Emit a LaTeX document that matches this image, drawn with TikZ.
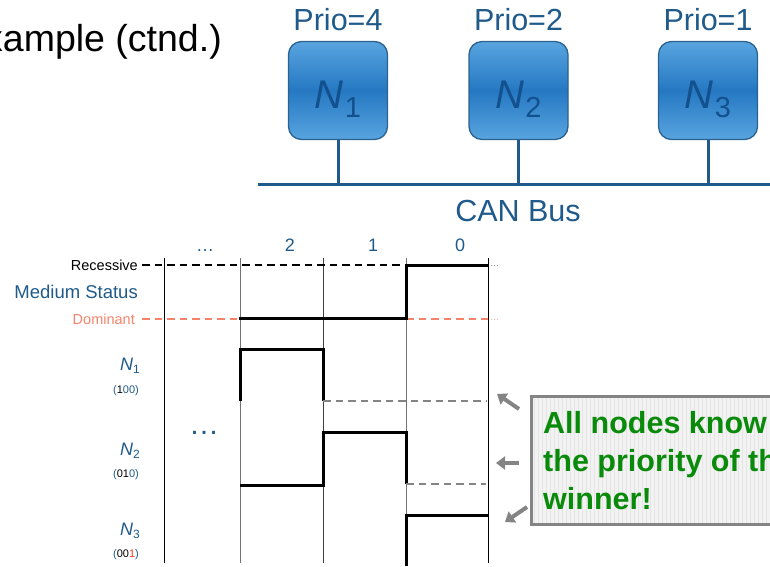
\documentclass[tikz,border=0pt]{standalone}
\usepackage{fontspec}
\setmainfont{Liberation Sans}
\usetikzlibrary{arrows.meta}

\definecolor{steel}{HTML}{1F5A8A}
\definecolor{deepblue}{HTML}{13508E}
\definecolor{boxedge}{HTML}{2B6290}
\definecolor{boxlight}{HTML}{58A4DF}
\definecolor{boxdark}{HTML}{2578C2}
\definecolor{salmon}{HTML}{F4836A}
\definecolor{hintgrey}{HTML}{848484}
\definecolor{notegreen}{HTML}{0A8A0A}
\definecolor{redbit}{HTML}{F03C1E}

\newcommand\pxfont[1]{\fontsize{#1}{#1}\selectfont}

\tikzset{
  ecu/.style={rounded corners=13pt, draw=boxedge, line width=1.3pt,
    top color=boxlight, bottom color=boxlight, middle color=boxdark,
    minimum width=99, minimum height=98, inner sep=0pt, text=deepblue},
  prio/.style={anchor=base, text=steel, inner sep=0pt, font=\pxfont{30.5}},
  busline/.style={draw=steel, line width=3pt},
  column/.style={line width=0.9pt},
  signal/.style={line width=3pt, line cap=rect},
  recdash/.style={line width=1.6pt, dash pattern=on 7.5pt off 5pt},
  domdash/.style={recdash, salmon},
  hintdash/.style={line width=1.6pt, hintgrey, dash pattern=on 7.5pt off 5pt},
  lbl/.style={inner sep=0pt},
  hintarrow/.style={line width=4pt, hintgrey, -{Triangle[length=9pt,width=13pt]}},
  notebox/.style={draw=hintgrey, line width=3pt, fill=black!5, inner sep=0pt,
    minimum width=262, minimum height=128,
    path picture={\draw[black!10, line width=0.4pt, step=4]
      (path picture bounding box.south west) grid (path picture bounding box.north east);}},
}

\begin{document}
\begin{tikzpicture}[x=1pt,y=-1pt]
\useasboundingbox (0,0) rectangle (770,566);

% slide heading, running off the left edge
\node[anchor=base east, inner sep=0pt, font=\pxfont{37.5}] (title) at (222,51) {xample (ctnd.)};

% bus topology
\node[ecu] (n1) at (338,90.5) {};
\node[ecu] (n2) at (518.5,90.5) {};
\node[ecu] (n3) at (708,90.5) {};
\foreach \n/\k in {n1/1, n2/2, n3/3}
  \node[anchor=base, inner sep=0pt, text=deepblue] (\n lab) at ([yshift=-18pt]\n.center)
    {\pxfont{40}\textit{N}\kern1pt\raisebox{-9pt}{\pxfont{29}\k}};
\node[prio] (p1) at (338,30) {Prio=4};
\node[prio] (p2) at (518.5,30) {Prio=2};
\node[prio] (p3) at (708,30) {Prio=1};

\coordinate (busL) at (258,184);
\coordinate (busR) at (772,184);
\draw[busline] (busL) -- (busR);
\foreach \n in {n1,n2,n3}
  \draw[busline] (\n.south) -- (\n.south |- busL);
\node[prio] (bus) at (518,221) {CAN Bus};

% bit time grid
\foreach \x/\c in {164/black, 240/black!55, 323/black!75, 406/black!55, 488/black}
  \draw[column, \c] (\x,258) -- (\x,563);
\node[lbl, anchor=base, text=steel, font=\pxfont{18}] (c3) at (205,251) {…};
\node[lbl, anchor=base, text=steel, font=\pxfont{18}] (c2) at (290,251) {2};
\node[lbl, anchor=base, text=steel, font=\pxfont{18}] (c1) at (373,251) {1};
\node[lbl, anchor=base, text=steel, font=\pxfont{18}] (c0) at (460,251) {0};

% medium status
\node[lbl, anchor=base east, font=\pxfont{14.5}] (rec) at (138,270) {Recessive};
\node[lbl, anchor=base east, text=steel, font=\pxfont{18.5}] (med) at (138,298.5) {Medium Status};
\node[lbl, anchor=base east, text=salmon, font=\pxfont{14.5}] (dom) at (135,324.5) {Dominant};

\draw[recdash] (142,265) -- (406,265);
\draw[domdash] (142,319) -- (240,319);
\draw[domdash] (406,319) -- (488,319);
\draw[line width=0.8pt, black!40, dotted] (491,265) -- (498,265);
\draw[line width=0.8pt, salmon!60, dotted] (491,319) -- (498,319);
\draw[signal] (240,318.5) -- (406,318.5) -- (406,265.5) -- (487.5,265.5);

% per-node levels
\node[lbl, anchor=base east, text=steel, font=\pxfont{18}] (l1) at (140,370)
  {\textit{N}\raisebox{-3pt}{\pxfont{12}1}};
\node[lbl, anchor=base east, text=steel, font=\pxfont{11}] (b1) at (139,393)
  {(\textcolor{black}{1}00)};
\node[lbl, anchor=base east, text=steel, font=\pxfont{18}] (l2) at (140,455)
  {\textit{N}\raisebox{-3pt}{\pxfont{12}2}};
\node[lbl, anchor=base east, text=steel, font=\pxfont{11}] (b2) at (139,477.5)
  {(\textcolor{black}{01}0)};
\node[lbl, anchor=base east, text=steel, font=\pxfont{18}] (l3) at (140,535)
  {\textit{N}\raisebox{-3pt}{\pxfont{12}3}};
\node[lbl, anchor=base east, text=steel, font=\pxfont{11}] (b3) at (139,557.5)
  {(\textcolor{black}{00}\textcolor{redbit}{1})};

\node[lbl, anchor=base, text=steel, font=\pxfont{30}] (skip) at (204,434) {…};

\draw[signal, line cap=butt] (240,401) -- (240,349) -- (323,349) -- (323,401);
\draw[hintdash] (323,401) -- (486,401);
\draw[signal, line cap=butt] (240,485) -- (323,485) -- (323,432) -- (406,432) -- (406,484);
\draw[hintdash] (406,484) -- (486,484);
\draw[signal, line cap=butt] (488,515) -- (406,515) -- (406,566);

% callout
\node[notebox, anchor=north west] (note) at (530,395) {};
\node[lbl, anchor=north west, align=left, text=notegreen,
  font=\fontsize{30.5}{38}\selectfont\bfseries] (notetext) at (543,411)
  {All nodes know\\the priority of th\\winner!};

\coordinate (a1s) at (519,409); \coordinate (a1e) at (497,394);
\coordinate (a2s) at (519,463); \coordinate (a2e) at (496,463);
\coordinate (a3s) at (527,507); \coordinate (a3e) at (505,522);
\draw[hintarrow] (a1s) -- (a1e);
\draw[hintarrow] (a2s) -- (a2e);
\draw[hintarrow] (a3s) -- (a3e);
\end{tikzpicture}
\end{document}
